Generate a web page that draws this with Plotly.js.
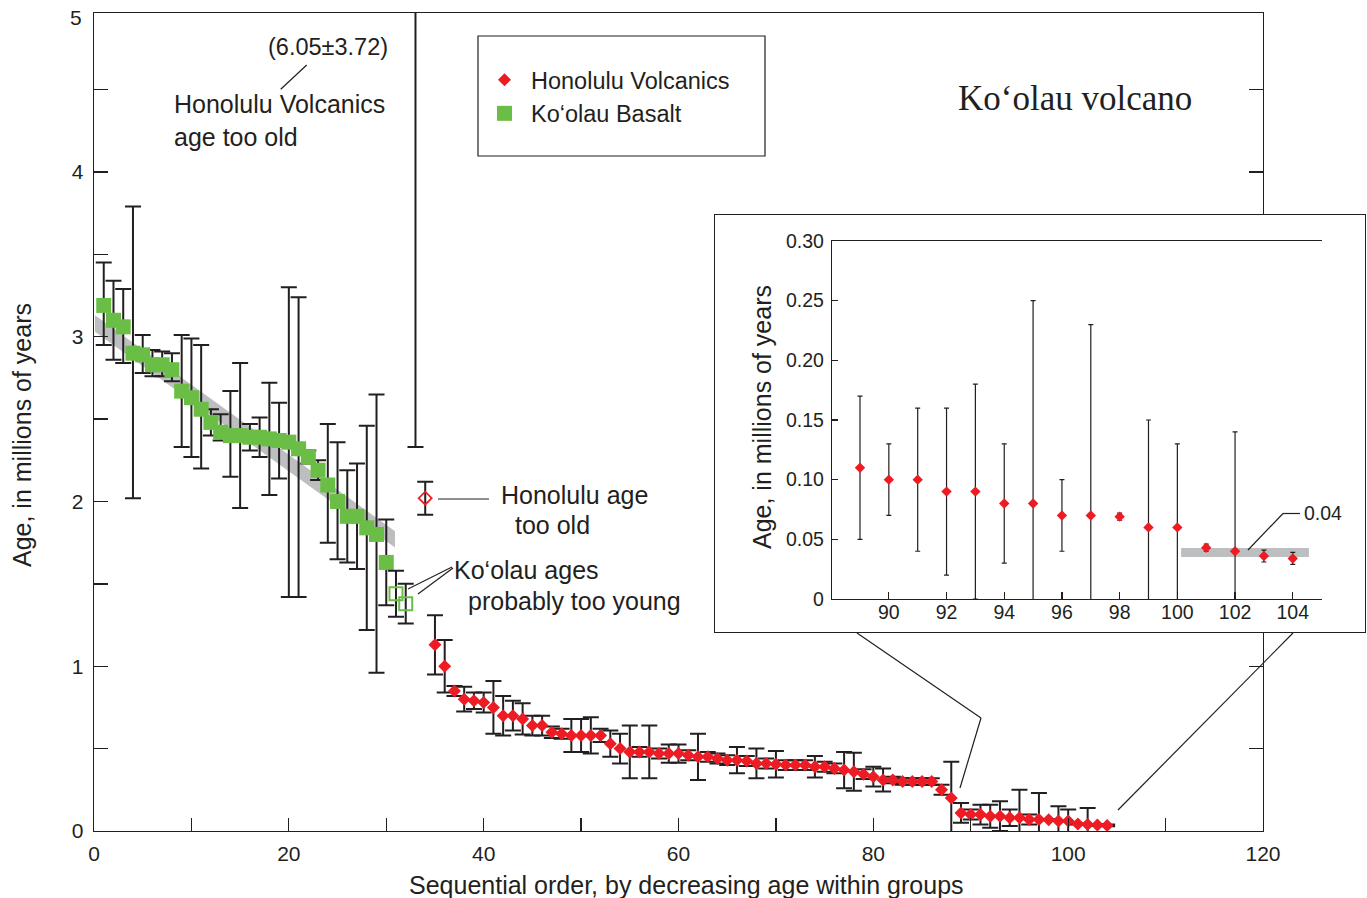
<!DOCTYPE html>
<html>
<head>
<meta charset="utf-8">
<script src="https://cdn.plot.ly/plotly-3.0.1.min.js"></script>
<style>html,body{margin:0;padding:0;background:#fff;}#chart{width:1367px;height:898px;}</style>
</head>
<body>
<div id="chart"></div>
<script>
// ---------------- DATA ----------------
const koolauX = [1,2,3,4,5,6,7,8,9,10,11,12,13,14,15,16,17,18,19,20,21,22,23,24,25,26,27,28,29,30];
const koolauAge = [3.19,3.10,3.06,2.90,2.89,2.83,2.83,2.80,2.67,2.63,2.56,2.48,2.42,2.40,2.40,2.39,2.39,2.38,2.37,2.36,2.32,2.27,2.19,2.10,2.00,1.91,1.91,1.84,1.80,1.63];
const koolauErrPlus = [0.26,0.24,0.23,0.89,0.12,0.09,0.08,0.10,0.34,0.36,0.39,0.08,0.11,0.27,0.44,0.08,0.12,0.34,0.23,0.94,0.92,0.04,0.06,0.37,0.36,0.28,0.32,0.62,0.85,0.26];
const koolauErrMinus = [0.24,0.24,0.22,0.88,0.11,0.07,0.07,0.07,0.34,0.36,0.36,0.08,0.05,0.25,0.44,0.08,0.12,0.34,0.23,0.94,0.90,0.04,0.06,0.35,0.35,0.28,0.32,0.62,0.84,0.26];

const koolauYoungX = [31,32];
const koolauYoungAge = [1.44,1.38];
const koolauYoungErr = [0.14,0.12];

const honoluluOldX = [33,34];
const honoluluOldAge = [6.05,2.02];
const honoluluOldErr = [3.72,0.10];

const honoluluX = [35,36,37,38,39,40,41,42,43,44,45,46,47,48,49,50,51,52,53,54,55,56,57,58,59,60,61,62,63,64,65,66,67,68,69,70,71,72,73,74,75,76,77,78,79,80,81,82,83,84,85,86,87,88,89,90,91,92,93,94,95,96,97,98,99,100,101,102,103,104];
const honoluluAge = [1.13,1.00,0.85,0.80,0.79,0.78,0.75,0.70,0.70,0.68,0.64,0.64,0.60,0.59,0.58,0.58,0.58,0.58,0.53,0.50,0.48,0.48,0.48,0.47,0.47,0.47,0.46,0.45,0.45,0.44,0.43,0.43,0.425,0.41,0.41,0.405,0.40,0.40,0.40,0.39,0.39,0.38,0.37,0.36,0.345,0.33,0.31,0.31,0.30,0.30,0.30,0.30,0.25,0.20,0.11,0.10,0.10,0.09,0.09,0.08,0.08,0.07,0.07,0.069,0.06,0.06,0.043,0.04,0.036,0.034];
const honoluluErr = [0.18,0.16,0.03,0.075,0.05,0.06,0.16,0.12,0.09,0.095,0.06,0.06,0.035,0.03,0.10,0.10,0.11,0.04,0.08,0.09,0.16,0.03,0.16,0.03,0.055,0.055,0.03,0.14,0.03,0.03,0.03,0.08,0.03,0.09,0.03,0.08,0.03,0.03,0.03,0.065,0.03,0.03,0.11,0.115,0.03,0.06,0.07,0.02,0.02,0.02,0.02,0.02,0.03,0.22,0.06,0.03,0.06,0.07,0.09,0.05,0.17,0.03,0.16,0.003,0.09,0.07,0.003,0.10,0.005,0.005];

const trendX = [0.1, 30.9];
const trendUpper = [3.13, 1.82];
const trendLower = [3.03, 1.72];

const meanX = [100.13, 104.56];
const meanAge = [0.039, 0.039];
const meanLabel = '0.04';

const insetStart = 89;

const xTickVals = [0,10,20,30,40,50,60,70,80,90,100,110,120];
const xTickText = ['0','','20','','40','','60','','80','','100','','120'];
const yTickVals = [0,0.5,1,1.5,2,2.5,3,3.5,4,4.5];
const yTickText = ['0','','1','','2','','3','','4',''];
const insetXTicks = [90,92,94,96,98,100,102,104];
const insetYTicks = [0,0.05,0.10,0.15,0.20,0.25,0.30];
const insetYText = ['0','0.05','0.10','0.15','0.20','0.25','0.30'];

// ---------------- STYLE ----------------
const RED = '#ed1c24', GREEN = '#6abd45', GRAY = '#bcbec0', INK = '#231f20';
const SANS = 'Liberation Sans, Arial, Helvetica, sans-serif';
const SERIF = 'Liberation Serif, Times New Roman, serif';
const W = 1367, H = 898, L = 94, R = 2, T = 13, B = 67;
const PW = W - L - R, PH = H - T - B;
const px = v => (v - L) / PW;
const py = v => (H - B - v) / PH;

const inX = [], inY = [], inE = [];
honoluluX.forEach((x, i) => { if (x >= insetStart) { inX.push(x); inY.push(honoluluAge[i]); inE.push(honoluluErr[i]); } });

const ebMain = (arr, minus) => ({type:'data', array:arr, arrayminus:minus || arr, symmetric: !minus, color:INK, thickness:2, width:8});

const traces = [
  {x: trendX, y: trendLower, mode:'lines', line:{width:0, color:GRAY}, showlegend:false, hoverinfo:'skip'},
  {x: trendX, y: trendUpper, mode:'lines', line:{width:0, color:GRAY}, fill:'tonexty', fillcolor:GRAY, showlegend:false, hoverinfo:'skip'},
  {x: koolauX, y: koolauAge, name:'Ko‘olau Basalt', mode:'markers', legendrank:2,
   marker:{symbol:'square', size:15, color:GREEN, line:{width:0}},
   error_y: ebMain(koolauErrPlus, koolauErrMinus)},
  {x: koolauYoungX, y: koolauYoungAge, mode:'markers', showlegend:false,
   marker:{symbol:'square-open', size:13, color:GREEN, line:{width:2, color:GREEN}},
   error_y: ebMain(koolauYoungErr)},
  {x: honoluluOldX, y: honoluluOldAge, mode:'markers', showlegend:false,
   marker:{symbol:'diamond-open', size:10, color:RED, line:{width:1.8, color:RED}},
   error_y: ebMain(honoluluOldErr)},
  {x: honoluluX, y: honoluluAge, name:'Honolulu Volcanics', mode:'markers', legendrank:1,
   marker:{symbol:'diamond', size:10, color:RED, line:{width:0}},
   error_y: ebMain(honoluluErr)},
  // inset box (empty subplot)
  {x: [], y: [], xaxis:'x2', yaxis:'y2', showlegend:false, hoverinfo:'skip'},
  // inset
  {x: meanX, y: meanAge, xaxis:'x3', yaxis:'y3', mode:'lines', line:{width:9, color:GRAY}, showlegend:false, hoverinfo:'skip'},
  {x: inX, y: inY, xaxis:'x3', yaxis:'y3', mode:'markers', showlegend:false,
   marker:{symbol:'diamond', size:8, color:RED, line:{width:0}},
   error_y:{type:'data', array:inE, color:INK, thickness:1.2, width:2.5}}
];

const axBase = {showgrid:false, zeroline:false, showline:true, linecolor:INK, linewidth:1.3,
  ticks:'inside', tickcolor:INK, tickwidth:1.3, tickfont:{family:SANS, size:21, color:INK}};

const line = (x0,y0,x1,y1) => ({type:'line', xref:'paper', yref:'paper', x0:px(x0), y0:py(y0), x1:px(x1), y1:py(y1), line:{color:INK, width:1.2}});
const ann = (text, x, y, o) => Object.assign({text, x:px(x), y:py(y), xref:'paper', yref:'paper', showarrow:false,
  xanchor:'left', yanchor:'middle', font:{family:SANS, size:25, color:INK}}, o || {});

const layout = {
  width: W, height: H,
  margin: {l:L, r:R, t:T, b:B},
  paper_bgcolor:'#fff', plot_bgcolor:'#fff',
  showlegend: true,
  legend: {x:px(478), y:py(58), xanchor:'left', yanchor:'top', bgcolor:'rgba(0,0,0,0)', borderwidth:0,
    itemwidth:43, font:{family:SANS, size:23.5, color:INK}, traceorder:'normal'},
  xaxis: Object.assign({}, axBase, {domain:[0, px(1263)], range:[0,120], tickvals:xTickVals, ticktext:xTickText,
    ticklen:13, mirror:true, ticklabelstandoff:3}),
  yaxis: Object.assign({}, axBase, {domain:[0,1], range:[0,4.965], tickvals:yTickVals, ticktext:yTickText,
    ticklen:14, mirror:'ticks', ticklabelstandoff:5}),
  xaxis2: {domain:[px(715), 1], anchor:'y2', range:[0,1], showgrid:false, zeroline:false, showline:true, mirror:true,
    linecolor:INK, linewidth:1.2, ticks:'', showticklabels:false},
  yaxis2: {domain:[py(632), py(215)], anchor:'x2', range:[0,1], showgrid:false, zeroline:false, showline:true, mirror:true,
    linecolor:INK, linewidth:1.2, ticks:'', showticklabels:false},
  xaxis3: Object.assign({}, axBase, {domain:[px(832), px(1321.6)], anchor:'y3', range:[88.03,105], tickvals:insetXTicks,
    ticklen:7, mirror:true, linewidth:1.2, tickfont:{family:SANS, size:19.5, color:INK}, ticklabelstandoff:-5}),
  yaxis3: Object.assign({}, axBase, {domain:[py(599), py(241)], anchor:'x3', range:[0,0.30], tickvals:insetYTicks,
    ticktext:insetYText, ticklen:6, mirror:false, linewidth:1.2, tickfont:{family:SANS, size:19.5, color:INK}, ticklabelstandoff:3}),
  shapes: [
    {type:'rect', xref:'paper', yref:'paper', x0:px(478), x1:px(765), y0:py(156), y1:py(36), line:{color:INK, width:1.2}},
    line(306.7,65,280.7,89.3),
    line(438,499,489,499),
    line(408,589,452,567),
    line(418,594,453,568),
    line(857,633,981,718),
    line(981,718,960,788),
    line(1118,810,1293,633),
    line(1248,550,1283,513.5),
    line(1283,513.5,1300,513.5)
  ],
  annotations: [
    ann('Age, in millions of years', 22, 435, {xanchor:'center', textangle:-90}),
    ann('Sequential order, by decreasing age within groups', 686, 885, {xanchor:'center'}),
    ann('5', 84, 17, {xanchor:'right', font:{family:SANS, size:21, color:INK}}),
    ann('(6.05±3.72)', 328, 47, {xanchor:'center', font:{family:SANS, size:23.5, color:INK}}),
    ann('Honolulu Volcanics<br>age too old', 172, 120, {align:'left'}),
    ann('Honolulu age', 499, 495),
    ann('too old', 513, 525),
    ann('Ko‘olau ages', 452, 570),
    ann('probably too young', 466, 601),
    ann('Ko‘olau volcano', 956, 99, {font:{family:SERIF, size:35, color:INK}}),
    ann('Age, in millions of years', 762, 417, {xanchor:'center', textangle:-90}),
    ann(meanLabel, 1302, 513, {font:{family:SANS, size:19.5, color:INK}})
  ]
};

Plotly.newPlot('chart', traces, layout, {displayModeBar:false, staticPlot:true});
</script>
</body>
</html>
